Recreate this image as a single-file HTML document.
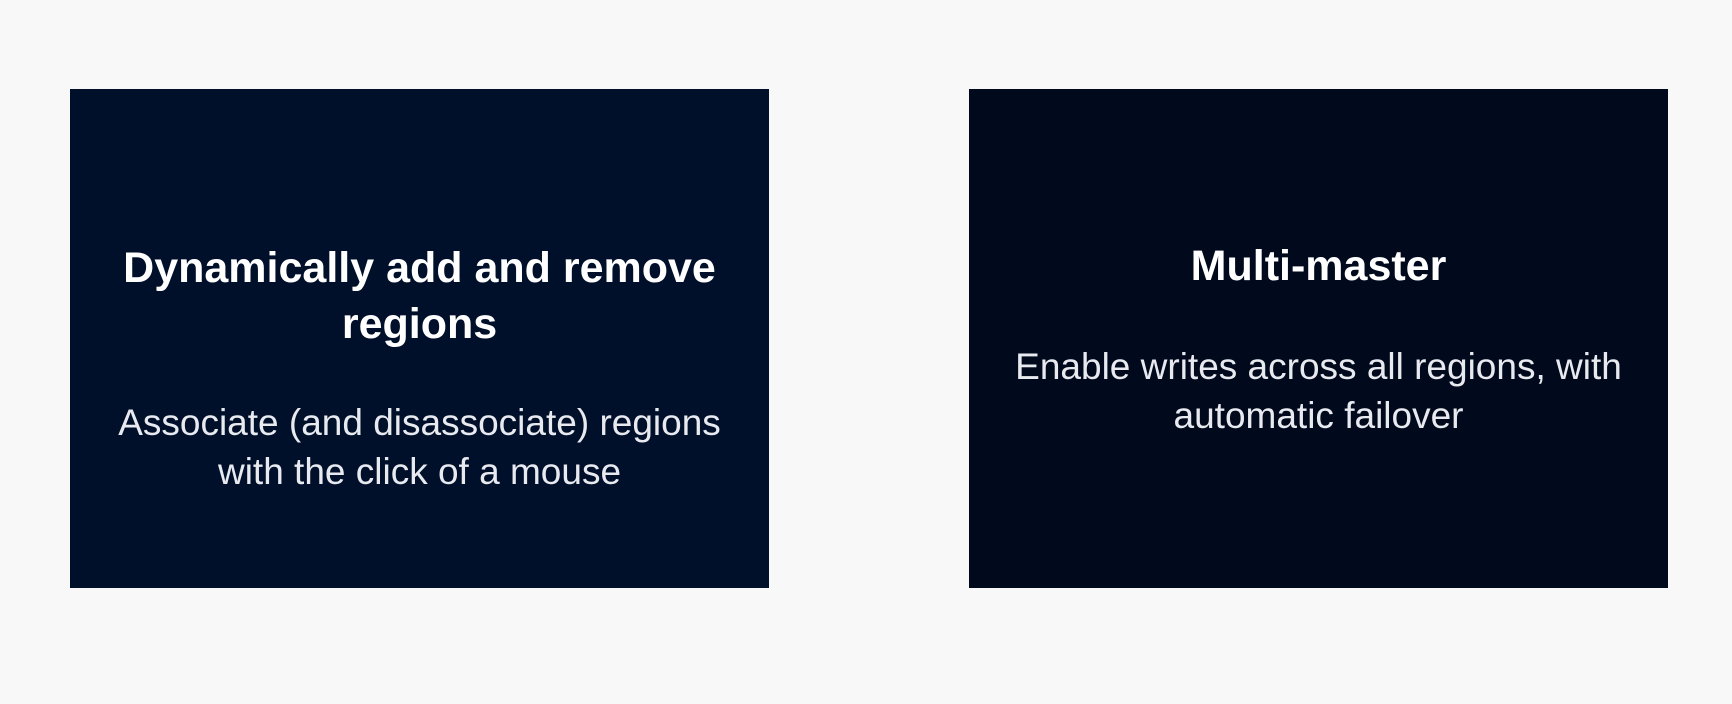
<!DOCTYPE html>
<html><head><style>
html,body{margin:0;padding:0;background:#f8f8f8;width:1732px;height:704px;overflow:hidden;font-family:"Liberation Sans",sans-serif}
.box{position:absolute;top:89px;width:699px;height:499px}
.t{position:absolute;left:0;width:100%;text-align:center;color:#fff;white-space:nowrap}
.h{font-weight:bold;font-size:43px;line-height:56px}
.s{font-size:37px;line-height:49px;color:#e8eaf0}
</style></head><body>
<div class="box" style="left:70px;background:#000f2a">
  <div class="t h" style="top:151px">Dynamically add and remove<br>regions</div>
  <div class="t s" style="top:309px">Associate (and disassociate) regions<br>with the click of a mouse</div>
</div>
<div class="box" style="left:969px;background:#000a1c">
  <div class="t h" style="top:149px">Multi-master</div>
  <div class="t s" style="top:253px">Enable writes across all regions, with<br>automatic failover</div>
</div>
</body></html>
